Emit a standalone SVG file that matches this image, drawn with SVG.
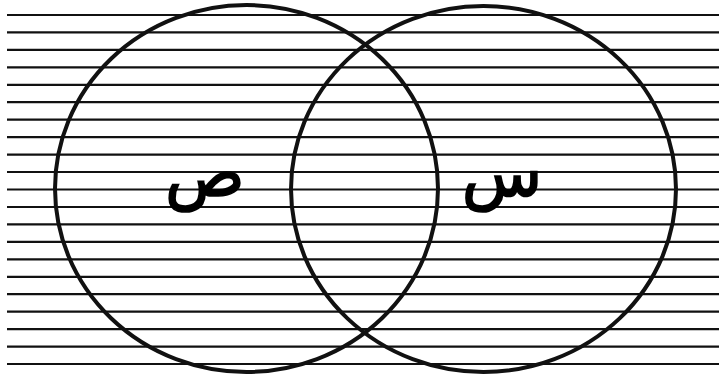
<svg xmlns="http://www.w3.org/2000/svg" width="725" height="374" viewBox="0 0 725 374">
<style>
.hl{stroke:#111;stroke-width:2.2}
.c{fill:none;stroke:#111;stroke-width:4}
.t{font-family:"DejaVu Sans","Noto Sans",sans-serif;font-size:66px;fill:#000;stroke:#000;stroke-width:1.6;text-anchor:middle}
</style>
<rect width="725" height="374" fill="#fff"/>
<g id="lines">
<line class="hl" x1="7" y1="15" x2="719" y2="15"/>
<line class="hl" x1="7" y1="32.4" x2="719" y2="32.4"/>
<line class="hl" x1="7" y1="49.9" x2="719" y2="49.9"/>
<line class="hl" x1="7" y1="67.4" x2="719" y2="67.4"/>
<line class="hl" x1="7" y1="84.8" x2="719" y2="84.8"/>
<line class="hl" x1="7" y1="102.2" x2="719" y2="102.2"/>
<line class="hl" x1="7" y1="119.7" x2="719" y2="119.7"/>
<line class="hl" x1="7" y1="137.2" x2="719" y2="137.2"/>
<line class="hl" x1="7" y1="154.6" x2="719" y2="154.6"/>
<line class="hl" x1="7" y1="172" x2="719" y2="172"/>
<line class="hl" x1="7" y1="189.5" x2="719" y2="189.5"/>
<line class="hl" x1="7" y1="207" x2="719" y2="207"/>
<line class="hl" x1="7" y1="224.4" x2="719" y2="224.4"/>
<line class="hl" x1="7" y1="241.8" x2="719" y2="241.8"/>
<line class="hl" x1="7" y1="259.3" x2="719" y2="259.3"/>
<line class="hl" x1="7" y1="276.8" x2="719" y2="276.8"/>
<line class="hl" x1="7" y1="294.2" x2="719" y2="294.2"/>
<line class="hl" x1="7" y1="311.6" x2="719" y2="311.6"/>
<line class="hl" x1="7" y1="329.1" x2="719" y2="329.1"/>
<line class="hl" x1="7" y1="346.6" x2="719" y2="346.6"/>
<line class="hl" x1="7" y1="364" x2="719" y2="364"/>
</g>
<g id="setB">
<ellipse class="c" cx="246.5" cy="188.5" rx="191.5" ry="183.5"/>
<text class="t" x="205" y="196">ص</text>
</g>
<g id="setA">
<ellipse class="c" cx="483.5" cy="189" rx="192.5" ry="183"/>
<text class="t" x="502" y="196">س</text>
</g>
</svg>
